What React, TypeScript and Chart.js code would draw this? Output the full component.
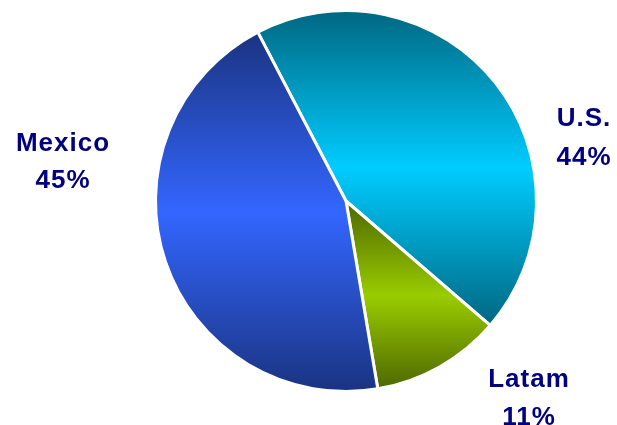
import React, { useEffect, useRef } from "react";
import { Chart, registerables } from "chart.js";

Chart.register(...registerables);

const categories = ["U.S.", "Latam", "Mexico"];
const shares = [44, 11, 45];
const shareLabels = ["44%", "11%", "45%"];
const darkColors = ["#006680", "#4D6600", "#1A3380"];
const brightColors = ["#00CCFF", "#99CC00", "#3366FF"];
const rotationDeg = -27.6;

// label layout (center x, baseline of first and second line)
const labelLayout = [
  { x: 584, y1: 126, y2: 165 },
  { x: 529, y1: 387, y2: 425 },
  { x: 63, y1: 151, y2: 188 },
];

function sliceGradient(ctx: any, i: number) {
  const chart = ctx.chart;
  const area = chart.chartArea;
  if (!area) return brightColors[i];
  const cx = (area.left + area.right) / 2;
  const cy = (area.top + area.bottom) / 2;
  const r = Math.min(area.right - area.left, area.bottom - area.top) / 2;
  const total = shares.reduce((a, b) => a + b, 0);
  let before = 0;
  for (let k = 0; k < i; k++) before += shares[k];
  const rot = (rotationDeg * Math.PI) / 180 - Math.PI / 2;
  const a0 = rot + (before / total) * Math.PI * 2;
  const a1 = rot + ((before + shares[i]) / total) * Math.PI * 2;
  let minY = cy;
  let maxY = cy;
  const steps = 200;
  for (let s = 0; s <= steps; s++) {
    const a = a0 + ((a1 - a0) * s) / steps;
    const y = cy + r * Math.sin(a);
    if (y < minY) minY = y;
    if (y > maxY) maxY = y;
  }
  const g = chart.ctx.createLinearGradient(0, minY, 0, maxY);
  g.addColorStop(0, darkColors[i]);
  g.addColorStop(0.5, brightColors[i]);
  g.addColorStop(1, darkColors[i]);
  return g;
}

const labelPlugin = {
  id: "sliceLabels",
  afterDraw(chart: any) {
    const c = chart.ctx;
    c.save();
    c.fillStyle = "#000080";
    c.font = "bold 26px 'Liberation Sans', Arial, sans-serif";
    c.textAlign = "center";
    c.textBaseline = "alphabetic";
    try {
      (c as any).letterSpacing = "1px";
    } catch (e) {}
    categories.forEach((name, i) => {
      const p = labelLayout[i];
      c.fillText(name, p.x, p.y1);
      c.fillText(shareLabels[i], p.x, p.y2);
    });
    c.restore();
  },
};

export default function App() {
  const ref = useRef<HTMLCanvasElement | null>(null);
  useEffect(() => {
    if (!ref.current) return;
    const chart = new Chart(ref.current, {
      type: "pie",
      data: {
        labels: categories,
        datasets: [
          {
            data: shares,
            backgroundColor: (ctx: any) => sliceGradient(ctx, ctx.dataIndex),
            borderColor: "#ffffff",
            borderWidth: 3,
          },
        ],
      },
      options: {
        responsive: false,
        animation: false,
        rotation: rotationDeg,
        layout: { padding: { left: 154, right: 79, top: 9, bottom: 32 } },
        plugins: {
          legend: { display: false },
          tooltip: { enabled: false },
        },
      },
      plugins: [labelPlugin],
    });
    return () => chart.destroy();
  }, []);
  return (
    <div style={{ position: "absolute", left: 0, top: 0, width: 617, height: 425, background: "#fff" }}>
      <canvas ref={ref} width={617} height={425} />
    </div>
  );
}
